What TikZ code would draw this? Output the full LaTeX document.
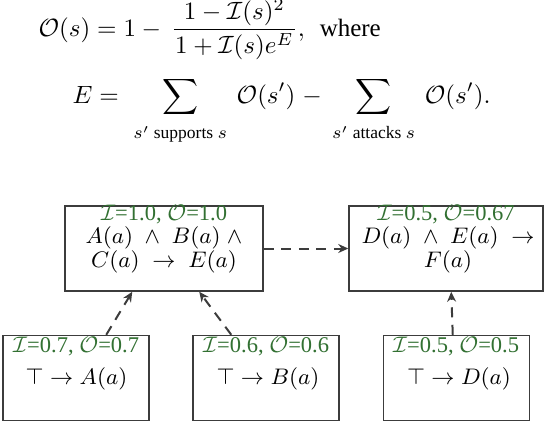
\documentclass[tikz,border=0pt]{standalone}
\usepackage{amsmath}
\usepackage{fontspec}
\setmainfont{Liberation Serif}
\usetikzlibrary{arrows.meta}
\definecolor{lblgreen}{RGB}{50,112,50}
\definecolor{boxgray}{RGB}{60,60,60}
\tikzset{
  box/.style={draw=boxgray, line width=0.6pt, rectangle, inner sep=0pt, minimum height=34pt},
  topbox/.style={box, minimum width=79.2pt},
  botbox/.style={box, minimum width=58.4pt},
  lbl/.style={anchor=base, inner sep=0pt, text=lblgreen, font=\fontsize{9}{10}\selectfont},
  txt/.style={anchor=base, inner sep=0pt, font=\fontsize{9}{10}\selectfont},
  dep/.style={draw=boxgray, line width=0.8pt, dash pattern=on 4pt off 3pt, -{Stealth[length=4pt,width=3.6pt]}},
  eq/.style={anchor=base west, inner sep=0pt}
}
\begin{document}
\begin{tikzpicture}[x=0.4pt, y=-0.4pt]
\useasboundingbox (0,0) rectangle (544,441);
% formula
\node[eq] (f1) at (38,36) {$\displaystyle \mathcal{O}(s) = 1 - \mskip3mu \frac{1-\mathcal{I}(s)^2}{\mskip1mu 1+\mathcal{I}(s)e^E\mskip1mu},$\hspace{6pt}where};
\node[eq] (f2) at (72,103) {$\displaystyle E = \mskip3mu \sum_{\rule{0pt}{7pt}\mskip3mu s' \text{ supports } s\mskip3mu} \mskip1.5mu \mathcal{O}(s') \mskip1mu - \mskip1mu \sum_{\rule{0pt}{7pt}\mskip3mu s' \text{ attacks } s\mskip3mu} \mskip1.5mu \mathcal{O}(s').$};
% boxes
\node[topbox] (tl) at (164,248.5) {};
\node[topbox, minimum width=77.6pt] (tr) at (446,248.5) {};
\node[botbox] (b1) at (76,378) {};
\node[botbox] (b2) at (266,378) {};
\node[botbox] (b3) at (456.5,378) {};
% texts
\node[lbl] (tlI) at (164,220) {$\mathcal{I}$=1.0, $\mathcal{O}$=1.0};
\node[txt] (tlA) at (164,243.5) {$A(a) \;\wedge\; B(a) \;\wedge$};
\node[txt] (tlB) at (164,267) {$C(a) \;\rightarrow\; E(a)$};
\node[lbl] (trI) at (446,220) {$\mathcal{I}$=0.5, $\mathcal{O}$=0.67};
\node[txt] (trA) at (448,243.5) {$D(a) \;\wedge\; E(a) \;\rightarrow$};
\node[txt] (trB) at (448,267) {$F(a)$};
\node[lbl] (b1I) at (76,352) {$\mathcal{I}$=0.7, $\mathcal{O}$=0.7};
\node[txt] (b1A) at (76.5,384) {$\top \rightarrow A(a)$};
\node[lbl] (b2I) at (266,352) {$\mathcal{I}$=0.6, $\mathcal{O}$=0.6};
\node[txt] (b2A) at (268,384) {$\top \rightarrow B(a)$};
\node[lbl] (b3I) at (456,352) {$\mathcal{I}$=0.5, $\mathcal{O}$=0.5};
\node[txt] (b3A) at (459,384) {$\top \rightarrow D(a)$};
% arrows
\draw[dep] ([xshift=41.6pt]b1.north west) -- ([xshift=27.2pt]tl.south west);
\draw[dep] ([xshift=15.6pt]b2.north west) -- ([xshift=54pt]tl.south west);
\draw[dep] ([xshift=28pt]b3.north west) -- ([xshift=41.2pt]tr.south west);
\draw[dep] (tl.east) -- (tr.west);
\end{tikzpicture}
\end{document}
